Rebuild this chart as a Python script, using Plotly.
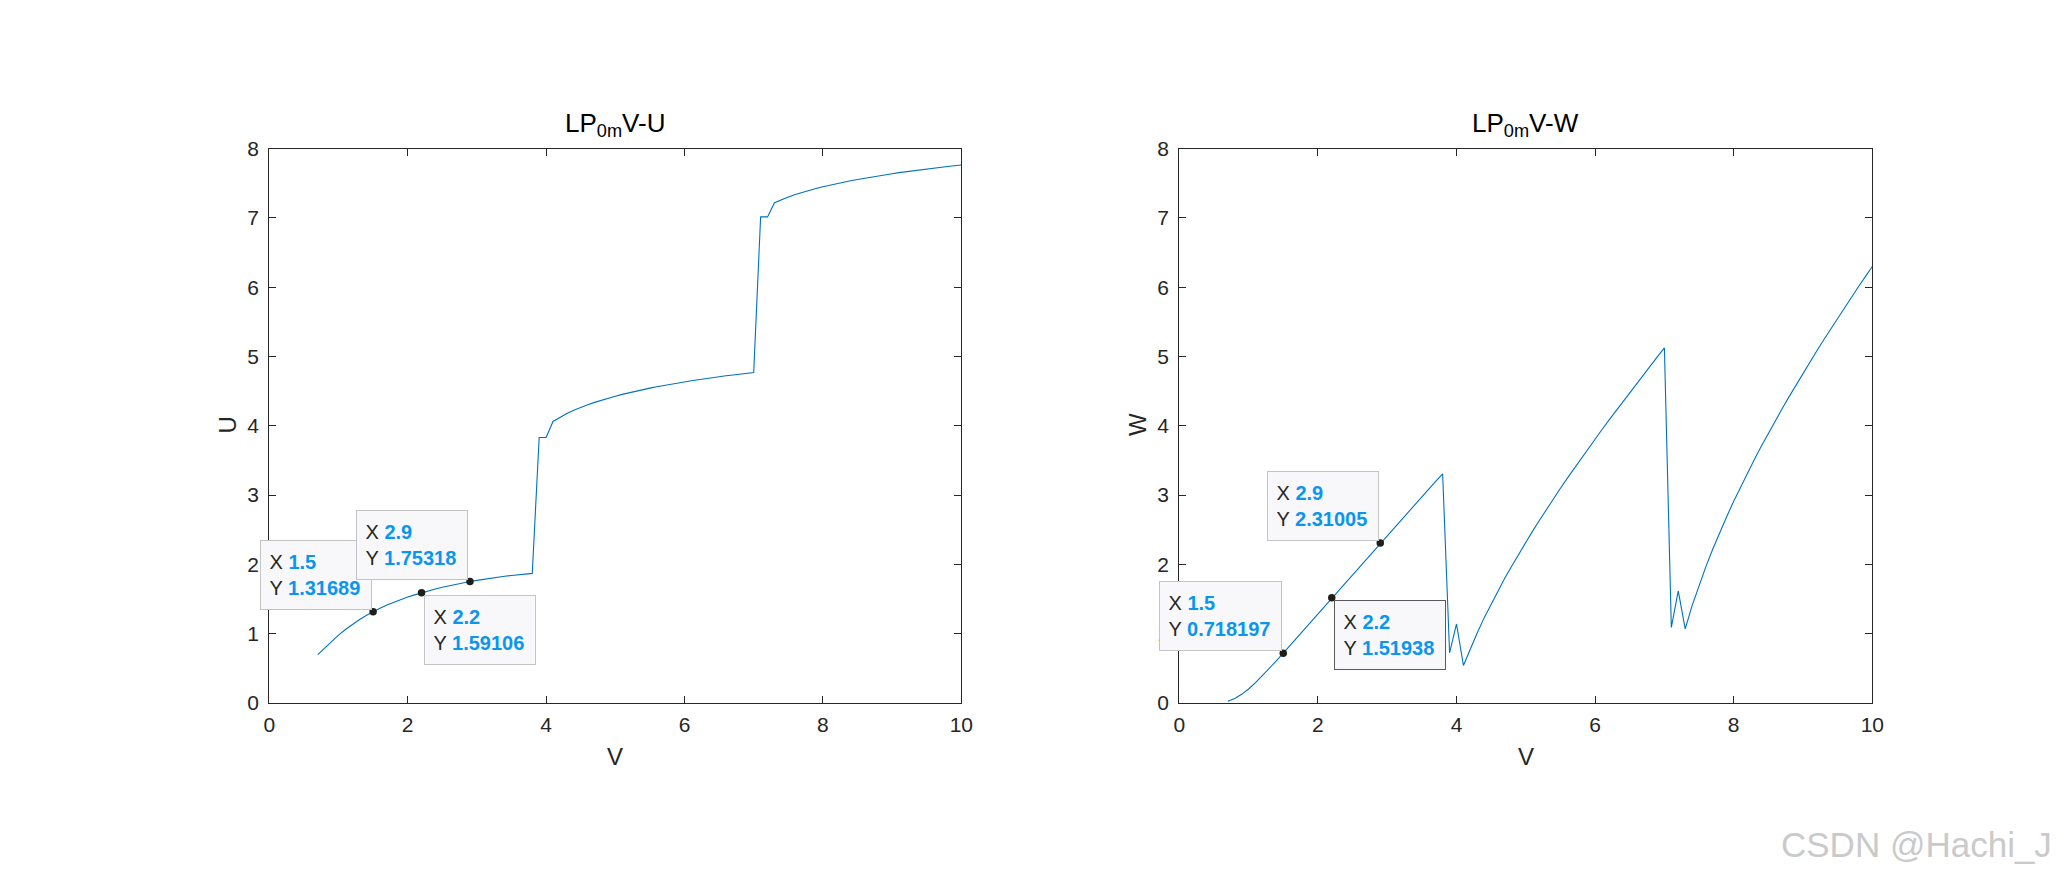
import plotly.graph_objects as go

# ---------------- data ----------------
V_LP01 = [0.7, 0.8, 0.9, 1.0, 1.1, 1.2, 1.3, 1.4, 1.5, 1.6, 1.7, 1.8, 1.9, 2.0, 2.1, 2.2,
          2.3, 2.4, 2.5, 2.6, 2.7, 2.8, 2.9, 3.0, 3.1, 3.2, 3.3, 3.4, 3.5, 3.6, 3.7, 3.8]
U_LP01 = [0.6996, 0.7974, 0.8913, 0.9794, 1.0603, 1.1335, 1.2004, 1.2616, 1.31689, 1.3673,
          1.4131, 1.4548, 1.4931, 1.5284, 1.5608, 1.59106, 1.6191, 1.6452, 1.6696, 1.6924,
          1.7138, 1.7338, 1.75318, 1.7703, 1.7866, 1.8017, 1.8157, 1.8286, 1.8405, 1.8515,
          1.8615, 1.8708]
W_LP01 = [0.024, 0.064, 0.125, 0.202, 0.293, 0.394, 0.499, 0.607, 0.718197, 0.831,
          0.945, 1.060, 1.175, 1.290, 1.405, 1.51938, 1.6336, 1.7474, 1.8608, 1.9738,
          2.0864, 2.1986, 2.31005, 2.4220, 2.5334, 2.6446, 2.7556, 2.8664, 2.9770, 3.0874,
          3.1976, 3.3076]

V_LP02 = [3.9, 4.0, 4.1, 4.2, 4.3, 4.4, 4.5, 4.6, 4.7, 4.8, 4.9, 5.0, 5.1, 5.2, 5.3, 5.4,
          5.5, 5.6, 5.7, 5.8, 5.9, 6.0, 6.1, 6.2, 6.3, 6.4, 6.5, 6.6, 6.7, 6.8, 6.9, 7.0]
U_LP02 = [3.832, 3.834, 4.064, 4.125, 4.179, 4.224, 4.267, 4.304, 4.339, 4.372, 4.401,
          4.428, 4.454, 4.479, 4.501, 4.523, 4.544, 4.564, 4.583, 4.601, 4.619,
          4.635, 4.651, 4.666, 4.682, 4.697, 4.710, 4.722, 4.734, 4.746, 4.757, 4.769]
W_LP02 = [0.7251, 1.1404, 0.5421, 0.7902, 1.0129, 1.2320, 1.4292, 1.6235, 1.8064, 1.9813,
          2.1544, 2.3223, 2.4843, 2.6417, 2.7984, 2.9500, 3.0987, 3.2450, 3.3891, 3.5314,
          3.6708, 3.8101, 3.9469, 4.0827, 4.2153, 4.3472, 4.4795, 4.6112, 4.7412, 4.8698,
          4.9981, 5.1241]

V_LP03 = [7.1, 7.2, 7.3, 7.4, 7.5, 7.6, 7.7, 7.8, 7.9, 8.0, 8.1, 8.2, 8.3, 8.4, 8.5,
          8.6, 8.7, 8.8, 8.9, 9.0, 9.1, 9.2, 9.3, 9.4, 9.5, 9.6, 9.7, 9.8, 9.9, 10.0]
U_LP03 = [7.0156, 7.0156, 7.221, 7.2655, 7.3045, 7.3395, 7.3713, 7.4003, 7.4269,
          7.4516, 7.4748, 7.4967, 7.5175, 7.5374, 7.5564, 7.5745, 7.5918, 7.6084, 7.6243,
          7.6396, 7.6543, 7.6684, 7.6820, 7.6951, 7.7078, 7.7201, 7.7320, 7.7435, 7.7546,
          7.7653]
W_LP03 = [1.0915, 1.6191, 1.0711, 1.4045, 1.7013, 1.9727, 2.2257, 2.4649, 2.6928,
          2.9110, 3.1205, 3.3226, 3.5181, 3.7078, 3.8923, 4.0727, 4.2491, 4.4218, 4.5913,
          4.7578, 4.9216, 5.0829, 5.2418, 5.3986, 5.5534, 5.7061, 5.8572, 6.0065, 6.1544,
          6.3007]

TIP_V = [1.5, 2.9, 2.2]
TIP_V_TEXT = ["1.5", "2.9", "2.2"]
TIP_U = [1.31689, 1.75318, 1.59106]
TIP_U_TEXT = ["1.31689", "1.75318", "1.59106"]
TIP_W = [0.718197, 2.31005, 1.51938]
TIP_W_TEXT = ["0.718197", "2.31005", "1.51938"]

X_TICKS = [0, 2, 4, 6, 8, 10]
Y_TICKS = [0, 1, 2, 3, 4, 5, 6, 7, 8]

V = V_LP01 + V_LP02 + V_LP03
U = U_LP01 + U_LP02 + U_LP03
W = W_LP01 + W_LP02 + W_LP03

# ---------------- styling ----------------
FIG_W, FIG_H = 2068, 884
FONT = "Liberation Sans, Arial, Helvetica, sans-serif"
AX_COLOR = "#262626"
LINE_COLOR = "#0072BD"
TIP_BLUE = "#0B96EE"


def px_x(p):
    return p / FIG_W


def px_y(p):
    return 1 - p / FIG_H


fig = go.Figure()
fig.add_trace(go.Scatter(x=V, y=U, mode="lines", line=dict(color=LINE_COLOR, width=1.1),
                         xaxis="x", yaxis="y", showlegend=False, hoverinfo="skip"))
fig.add_trace(go.Scatter(x=V, y=W, mode="lines", line=dict(color=LINE_COLOR, width=1.1),
                         xaxis="x2", yaxis="y2", showlegend=False, hoverinfo="skip"))
fig.add_trace(go.Scatter(x=TIP_V, y=TIP_U, mode="markers",
                         marker=dict(color="#1f1f1a", size=7.5, line=dict(width=0)),
                         xaxis="x", yaxis="y", showlegend=False, hoverinfo="skip"))
fig.add_trace(go.Scatter(x=TIP_V, y=TIP_W, mode="markers",
                         marker=dict(color="#1f1f1a", size=7.5, line=dict(width=0)),
                         xaxis="x2", yaxis="y2", showlegend=False, hoverinfo="skip"))

axis_common = dict(showline=True, linecolor=AX_COLOR, linewidth=1.2, mirror="ticks",
                   ticks="inside", ticklen=7, tickwidth=1.2, tickcolor=AX_COLOR,
                   showgrid=False, zeroline=False, automargin=False,
                   tickfont=dict(family=FONT, size=21, color=AX_COLOR))

Y_DOM = [px_y(703.0), px_y(148.7)]
fig.update_layout(
    template="none",
    autosize=True,
    margin=dict(l=0, r=0, t=0, b=0, pad=0, autoexpand=False),
    paper_bgcolor="white", plot_bgcolor="white",
    xaxis=dict(domain=[px_x(269.3), px_x(961.3)], range=[0, 10], tickvals=X_TICKS,
               anchor="y", ticklabelstandoff=3, **axis_common),
    yaxis=dict(domain=Y_DOM, range=[0, 8], tickvals=Y_TICKS, anchor="x",
               ticklabelstandoff=5, **axis_common),
    xaxis2=dict(domain=[px_x(1179.3), px_x(1872.3)], range=[0, 10], tickvals=X_TICKS,
                anchor="y2", ticklabelstandoff=3, **axis_common),
    yaxis2=dict(domain=Y_DOM, range=[0, 8], tickvals=Y_TICKS, anchor="x2",
                ticklabelstandoff=5, **axis_common),
)

annotations = []

# titles and axis labels
for cx, name in [(615.3, "U"), (1525.8, "W")]:
    annotations.append(dict(
        text="LP<sub>0m</sub>V-" + name, xref="paper", yref="paper",
        x=px_x(cx), y=px_y(125), xanchor="center", yanchor="middle", showarrow=False,
        font=dict(family=FONT, size=26, color="#000000")))
    annotations.append(dict(
        text="V", xref="paper", yref="paper", x=px_x(cx), y=px_y(756),
        xanchor="center", yanchor="middle", showarrow=False,
        font=dict(family=FONT, size=24, color=AX_COLOR)))
annotations.append(dict(text="U", xref="paper", yref="paper", x=px_x(226.5), y=px_y(425),
                        xanchor="center", yanchor="middle", showarrow=False, textangle=-90,
                        font=dict(family=FONT, size=24, color=AX_COLOR)))
annotations.append(dict(text="W", xref="paper", yref="paper", x=px_x(1137), y=px_y(425),
                        xanchor="center", yanchor="middle", showarrow=False, textangle=-90,
                        font=dict(family=FONT, size=24, color=AX_COLOR)))


def add_tip(xref, yref, xv, yv, xt, yt, place, w, h=70, border="#C4C4C4"):
    bw, pad = 1, 8.5
    if place == "ul":
        xa, ya, xs, ys = "right", "bottom", -1.5, 2
    else:
        xa, ya, xs, ys = "left", "top", 2, -2
    annotations.append(dict(
        xref=xref, yref=yref, x=xv, y=yv, xanchor=xa, yanchor=ya, xshift=xs, yshift=ys,
        showarrow=False, align="left", valign="middle",
        width=w - 2 * (bw + pad), height=h - 2 * (bw + pad),
        bgcolor="#F8F8FB", bordercolor=border, borderwidth=bw, borderpad=pad,
        text=(f'X <b><span style="color:{TIP_BLUE}">{xt}</span></b><br>'
              f'Y <b><span style="color:{TIP_BLUE}">{yt}</span></b>'),
        font=dict(family=FONT, size=20, color=AX_COLOR)))


places = ["ul", "ul", "lr"]
for i in range(3):
    add_tip("x", "y", TIP_V[i], TIP_U[i], TIP_V_TEXT[i], TIP_U_TEXT[i], places[i], 112)
tip_w_widths = [123, 112, 112]
tip_w_borders = ["#C4C4C4", "#C4C4C4", "#5A5A5A"]
for i in range(3):
    add_tip("x2", "y2", TIP_V[i], TIP_W[i], TIP_V_TEXT[i], TIP_W_TEXT[i], places[i],
            tip_w_widths[i], border=tip_w_borders[i])

# watermark
annotations.append(dict(text="CSDN @Hachi_J", xref="paper", yref="paper",
                        x=px_x(2054), y=px_y(844), xanchor="right", yanchor="middle",
                        showarrow=False,
                        font=dict(family=FONT, size=35, color="#CACACA")))

fig.update_layout(annotations=annotations)

fig.write_html(
    "out.html",
    config={"displayModeBar": False},
    default_width=f"{FIG_W}px",
    default_height=f"{FIG_H}px;position:fixed;top:0;left:0",
)
